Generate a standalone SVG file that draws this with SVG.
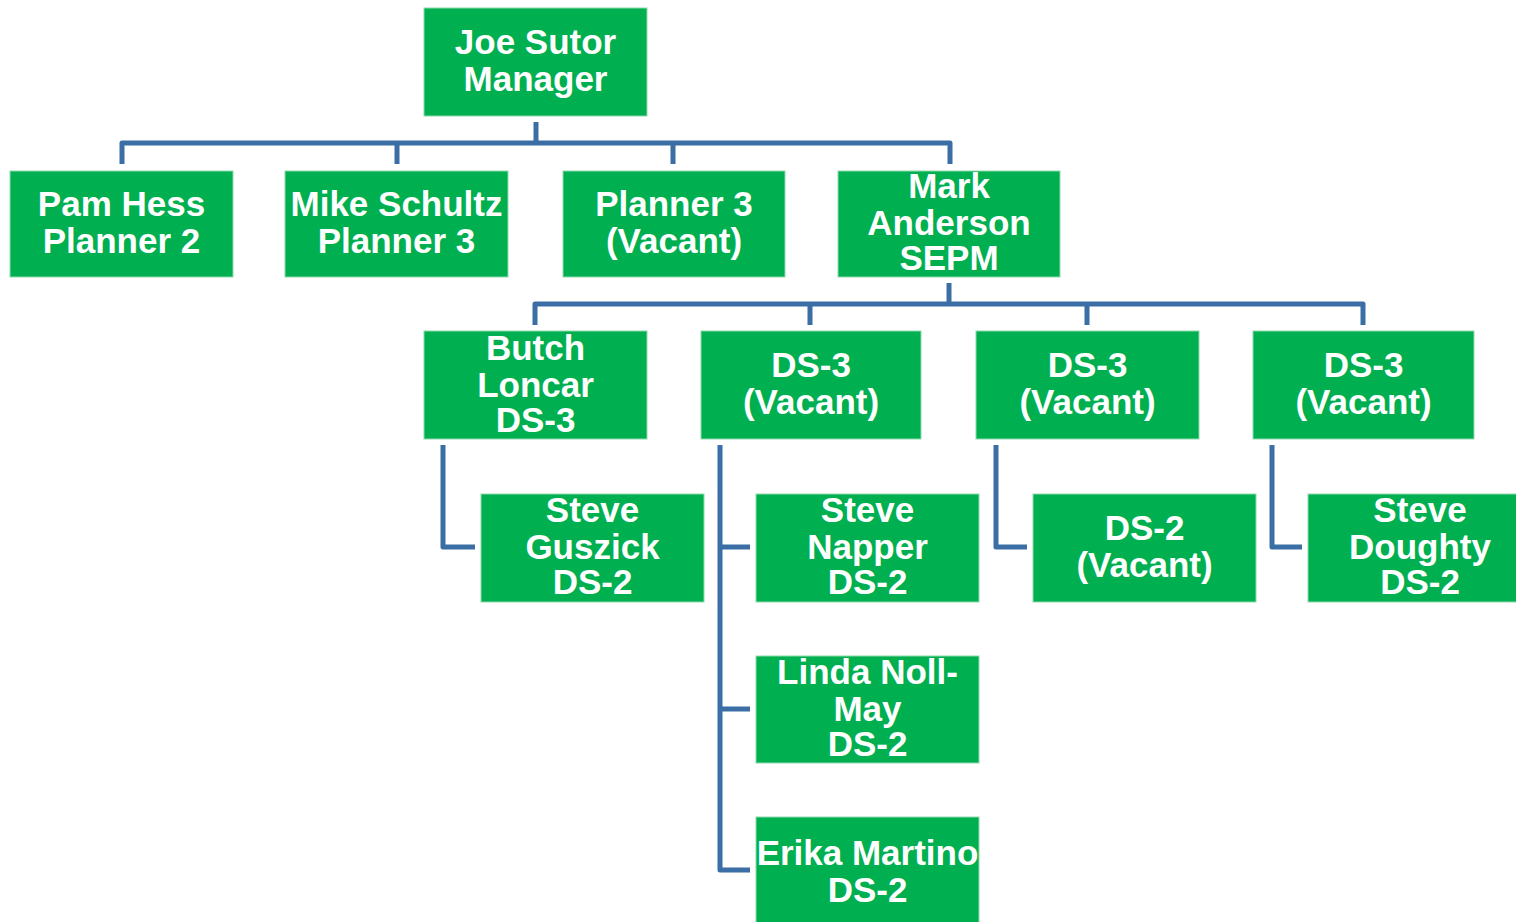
<svg xmlns="http://www.w3.org/2000/svg" width="1516" height="922" viewBox="0 0 1516 922">
<style>
.box{fill:#00B050;stroke:#8FD9AE;stroke-width:1}
.t{font-family:"Liberation Sans",Arial,sans-serif;font-weight:bold;font-size:35px;fill:#FFFFFF;text-anchor:middle}
.c{fill:none;stroke:#3A6EA5;stroke-width:5;stroke-linejoin:round}
</style>
<rect width="1516" height="922" fill="#FFFFFF"/>
<g id="connectors">
<path class="c" d="M536 122V143"/>
<path class="c" d="M122 164V143H950V164M397 143V164M673 143V164"/>
<path class="c" d="M949 283V304"/>
<path class="c" d="M535 325V304H1363V325M810 304V325M1087 304V325"/>
<path class="c" d="M443 445V547H475"/>
<path class="c" d="M720 445V870H750M720 547H750M720 709H750"/>
<path class="c" d="M996 445V547H1027"/>
<path class="c" d="M1272 445V547H1302"/>
</g>
<g id="joe"><rect class="box" x="424" y="8" width="223" height="108"/><text class="t" x="535.5" y="54">Joe Sutor</text><text class="t" x="535.5" y="91">Manager</text></g>
<g id="pam"><rect class="box" x="10" y="171" width="223" height="106"/><text class="t" x="121.5" y="216">Pam Hess</text><text class="t" x="121.5" y="253">Planner 2</text></g>
<g id="mike"><rect class="box" x="285" y="171" width="223" height="106"/><text class="t" x="396.5" y="216">Mike Schultz</text><text class="t" x="396.5" y="253">Planner 3</text></g>
<g id="planner3"><rect class="box" x="563" y="171" width="222" height="106"/><text class="t" x="674" y="216">Planner 3</text><text class="t" x="674" y="253">(Vacant)</text></g>
<g id="mark"><rect class="box" x="838" y="171" width="222" height="106"/><text class="t" x="949" y="198">Mark</text><text class="t" x="949" y="235">Anderson</text><text class="t" x="949" y="270">SEPM</text></g>
<g id="butch"><rect class="box" x="424" y="331" width="223" height="108"/><text class="t" x="535.5" y="360">Butch</text><text class="t" x="535.5" y="397">Loncar</text><text class="t" x="535.5" y="432">DS-3</text></g>
<g id="ds3a"><rect class="box" x="701" y="331" width="220" height="108"/><text class="t" x="811" y="377">DS-3</text><text class="t" x="811" y="414">(Vacant)</text></g>
<g id="ds3b"><rect class="box" x="976" y="331" width="223" height="108"/><text class="t" x="1087.5" y="377">DS-3</text><text class="t" x="1087.5" y="414">(Vacant)</text></g>
<g id="ds3c"><rect class="box" x="1253" y="331" width="221" height="108"/><text class="t" x="1363.5" y="377">DS-3</text><text class="t" x="1363.5" y="414">(Vacant)</text></g>
<g id="guszick"><rect class="box" x="481" y="494" width="223" height="108"/><text class="t" x="592.5" y="522">Steve</text><text class="t" x="592.5" y="559">Guszick</text><text class="t" x="592.5" y="594">DS-2</text></g>
<g id="napper"><rect class="box" x="756" y="494" width="223" height="108"/><text class="t" x="867.5" y="522">Steve</text><text class="t" x="867.5" y="559">Napper</text><text class="t" x="867.5" y="594">DS-2</text></g>
<g id="ds2"><rect class="box" x="1033" y="494" width="223" height="108"/><text class="t" x="1144.5" y="540">DS-2</text><text class="t" x="1144.5" y="577">(Vacant)</text></g>
<g id="doughty"><rect class="box" x="1308" y="494" width="224" height="108"/><text class="t" x="1420" y="522">Steve</text><text class="t" x="1420" y="559">Doughty</text><text class="t" x="1420" y="594">DS-2</text></g>
<g id="linda"><rect class="box" x="756" y="656" width="223" height="107"/><text class="t" x="867.5" y="684">Linda Noll-</text><text class="t" x="867.5" y="721">May</text><text class="t" x="867.5" y="756">DS-2</text></g>
<g id="erika"><rect class="box" x="756" y="817" width="223" height="108"/><text class="t" x="867.5" y="865">Erika Martino</text><text class="t" x="867.5" y="902">DS-2</text></g>
</svg>
